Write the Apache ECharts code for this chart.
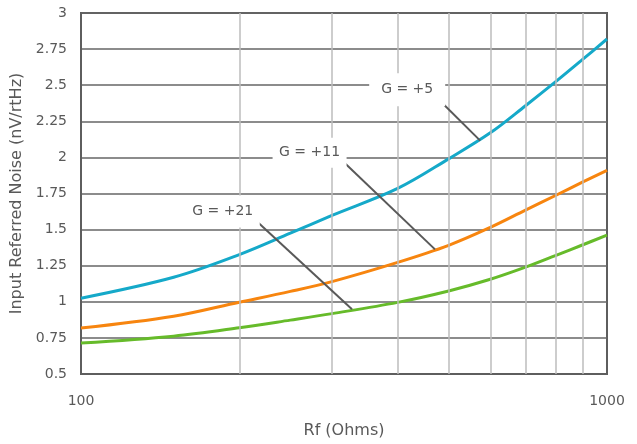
<!DOCTYPE html>
<html>
<head>
<meta charset="utf-8">
<script src="https://cdn.jsdelivr.net/npm/echarts@6/dist/echarts.min.js"></script>
<style>
  html, body { margin: 0; padding: 0; background: #fff; }
  #chart { width: 637px; height: 444px; }
</style>
</head>
<body>
<div id="chart"></div>
<script>
// Rf values (Ohms) and noise curves (nV/rtHz)
const rf = [100, 150, 200, 250, 300, 400, 500, 600, 700, 800, 900, 1000];
const gain5 = [1.025, 1.17, 1.327, 1.475, 1.598, 1.785, 1.99, 2.17, 2.358, 2.526, 2.68, 2.82];
const gain11 = [0.818, 0.9, 0.997, 1.072, 1.14, 1.273, 1.391, 1.515, 1.635, 1.738, 1.83, 1.91];
const gain21 = [0.714, 0.762, 0.82, 0.873, 0.918, 0.996, 1.075, 1.156, 1.24, 1.322, 1.395, 1.462];
const minorRf = [200, 300, 400, 500, 600, 700, 800, 900];

// annotation label positions and leader lines, in data units
const labels = [
  { text: "G = +5", at: [417, 2.468], box: [76, 33] },
  { text: "G = +11", at: [272, 2.033], box: [74, 30] },
  { text: "G = +21", at: [186, 1.626], box: [74, 32] },
];
const leaders = [
  [[475, 2.413], [574, 2.116]],
  [[315, 1.971], [471, 1.363]],
  [[214, 1.57], [327.5, 0.949]],
];

const textColor = "#595959";
const font = "DejaVu Sans";

const pair = (xs, ys) => xs.map((x, i) => [x, ys[i]]);

const chart = echarts.init(document.getElementById("chart"));

const lineSeries = (name, values, color) => ({
  name: name,
  type: "line",
  data: pair(rf, values),
  smooth: 0.35,
  showSymbol: false,
  z: 3,
  lineStyle: { color: color, width: 3 },
  itemStyle: { color: color },
});

const option = {
  animation: false,
  textStyle: { fontFamily: font },
  grid: {
    left: 81,
    right: 30,
    top: 13,
    bottom: 69,
    show: true,
    borderColor: "#5e5e5e",
    borderWidth: 2,
    backgroundColor: "#fff",
  },
  xAxis: {
    type: "log",
    logBase: 10,
    min: 100,
    max: 1000,
    name: "Rf (Ohms)",
    nameLocation: "middle",
    nameGap: 49,
    nameTextStyle: { color: textColor, fontSize: 16, fontFamily: font },
    axisLine: { show: true, lineStyle: { color: "#5e5e5e", width: 2 } },
    axisTick: { show: false },
    axisLabel: {
      color: textColor,
      fontSize: 14,
      margin: 20,
      fontFamily: font,
      formatter: (v) => String(v),
    },
    splitLine: { show: false },
  },
  yAxis: {
    type: "value",
    min: 0.5,
    max: 3,
    interval: 0.25,
    name: "Input Referred Noise (nV/rtHz)",
    nameLocation: "middle",
    nameGap: 53,
    nameTextStyle: { color: textColor, fontSize: 16, fontFamily: font },
    axisLine: { show: true, lineStyle: { color: "#5e5e5e", width: 2 } },
    axisTick: { show: false },
    axisLabel: { color: textColor, fontSize: 14, margin: 14, fontFamily: font },
    splitLine: { show: true, lineStyle: { color: "#666666", width: 1.5 } },
  },
  series: [
    {
      // minor vertical grid lines of the log axis
      name: "grid",
      type: "line",
      data: [],
      z: 1,
      silent: true,
      markLine: {
        silent: true,
        symbol: "none",
        label: { show: false },
        lineStyle: { color: "#bdbdbd", width: 1.5, type: "solid" },
        data: minorRf.map((v) => ({ xAxis: v })),
      },
    },
    lineSeries("G = +21", gain21, "#66bb2a"),
    lineSeries("G = +11", gain11, "#f7850f"),
    lineSeries("G = +5", gain5, "#15a9c9"),
    {
      name: "notes",
      type: "line",
      data: [],
      z: 4,
      silent: true,
      markPoint: {
        silent: true,
        symbol: "rect",
        itemStyle: { color: "#fff" },
        label: {
          show: true,
          position: "inside",
          color: textColor,
          fontSize: 14,
          fontFamily: font,
        },
        data: labels.map((l) => ({
          coord: l.at,
          symbolSize: l.box,
          label: { formatter: l.text },
        })),
      },
      markLine: {
        silent: true,
        symbol: "none",
        label: { show: false },
        lineStyle: { color: "#595959", width: 2, type: "solid" },
        data: leaders.map((seg) => [{ coord: seg[0] }, { coord: seg[1] }]),
      },
    },
  ],
};

chart.setOption(option);
</script>
</body>
</html>
